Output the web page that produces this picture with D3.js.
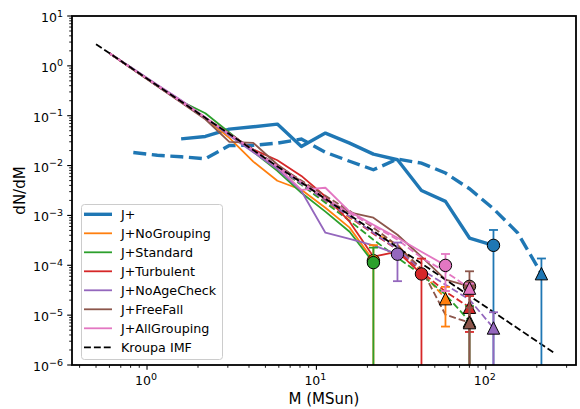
<!DOCTYPE html>
<html><head><meta charset="utf-8">
<script src="https://cdn.jsdelivr.net/npm/d3@7"></script>
<style>body{margin:0;background:#fff}svg{display:block;font-family:"DejaVu Sans",sans-serif}</style>
</head><body><svg id="c" width="580" height="409"></svg>
<script>
// ---------------- data ----------------
const massBins = [0.6, 0.83, 1.15, 1.59, 2.21, 3.06, 4.24, 5.88, 8.15, 11.3, 15.7, 21.7, 30.1, 41.7, 57.8, 80.1, 111, 154, 213];
const seriesNames = ["J+", "J+NoGrouping", "J+Standard", "J+Turbulent", "J+NoAgeCheck", "J+FreeFall", "J+AllGrouping"];
const N = null;
const jplusSolid        = [N, N, N, 0.0344, 0.0383, 0.0539, 0.060, 0.0679, 0.0241, 0.0448, 0.0282, 0.0170, 0.0131, 0.00317, 0.00191, 0.000352, 0.000251, N, N];
const jplusDashed       = [N, 0.0183, 0.0161, 0.0150, 0.0137, 0.0253, 0.0255, 0.0282, 0.0340, 0.0185, 0.0122, 0.00824, 0.0135, 0.0112, 0.00708, 0.00343, 0.00136, 0.00045, 0.0000679];
const noGroupingSolid   = [1.80, 0.86, 0.41, 0.19, 0.088, 0.036, 0.012, 0.00496, 0.00327, 0.00143, 0.00057, 0.000124, N, N, N, N, N, N, N];
const noGroupingDashed  = [1.79, 0.85, 0.40, 0.19, 0.089, 0.042, 0.020, 0.0090, 0.0042, 0.0019, 0.00090, 0.00045, 0.00026, 0.0000744, 0.0000214, N, N, N, N];
const standardSolid     = [1.78, 0.85, 0.40, 0.195, 0.112, 0.046, 0.019, 0.00787, 0.00285, 0.00119, 0.00047, 0.000113, N, N, N, N, N, N, N];
const standardDashed    = [1.79, 0.85, 0.40, 0.19, 0.089, 0.042, 0.020, 0.0092, 0.0041, 0.0018, 0.00078, 0.000326, 0.000142, 0.0000648, 0.0000258, 0.0000076, N, N, N];
const turbulentSolid    = [1.79, 0.84, 0.40, 0.19, 0.090, 0.043, 0.021, 0.0128, 0.0062, 0.0024, 0.00075, 0.000149, 0.000187, 0.000067, N, N, N, N, N];
const turbulentDashed   = [1.79, 0.85, 0.40, 0.19, 0.090, 0.043, 0.0205, 0.0097, 0.0046, 0.0021, 0.00095, 0.00043, 0.000205, 0.0000744, 0.0000296, 0.0000144, N, N, N];
const noAgeCheckSolid   = [1.80, 0.87, 0.42, 0.205, 0.092, 0.040, 0.0185, 0.0085, 0.0031, 0.00045, 0.00034, 0.00025, 0.000167, N, N, N, N, N, N];
const noAgeCheckDashed  = [1.79, 0.85, 0.40, 0.19, 0.089, 0.042, 0.020, 0.0093, 0.0043, 0.0020, 0.00095, 0.00045, 0.00021, 0.0000816, 0.0000409, 0.0000205, 0.00000553, N, N];
const freeFallSolid     = [1.78, 0.84, 0.39, 0.185, 0.085, 0.030, 0.0286, 0.0105, 0.0048, 0.0021, 0.00115, 0.0009, 0.00041, 0.000149, 0.0000515, 0.0000378, N, N, N];
const freeFallDashed    = [1.79, 0.85, 0.40, 0.19, 0.090, 0.044, 0.021, 0.010, 0.0050, 0.00248, 0.00124, 0.000567, 0.000247, 0.000085, 0.0000102, 0.00000708, N, N, N];
const allGroupingSolid  = [1.79, 0.85, 0.41, 0.20, 0.092, 0.043, 0.020, 0.0095, 0.00327, 0.00359, 0.00119, 0.000651, 0.000357, 0.000187, 0.0000995, N, N, N, N];
const allGroupingDashed = [1.79, 0.85, 0.40, 0.19, 0.090, 0.043, 0.0205, 0.0098, 0.0047, 0.0022, 0.0011, 0.000622, 0.000326, 0.000142, 0.0000744, 0.0000348, N, N, N];
// symmetric errors on last point (circle = solid run, triangle = dashed run)
const circleErr   = [2.6e-4, 1.3e-4, 1.13e-4, 6.9e-5, 1.19e-4, 3.8e-5, 6.9e-5];
const triangleErr = [6.9e-5, 1.55e-5, 7.6e-6, 9.8e-6, 5.9e-6, 7.1e-6, 8e-6];
const kroupaMass = [0.5, 250];
const kroupaVal  = [2.72, 1.8e-6];
const xTickVals = [1, 10, 100];
const yTickVals = [1e-6, 1e-5, 1e-4, 1e-3, 1e-2, 1e-1, 1, 10];

const solids  = [jplusSolid, noGroupingSolid, standardSolid, turbulentSolid, noAgeCheckSolid, freeFallSolid, allGroupingSolid];
const dasheds = [jplusDashed, noGroupingDashed, standardDashed, turbulentDashed, noAgeCheckDashed, freeFallDashed, allGroupingDashed];
const colors = ["#1f77b4", "#ff7f0e", "#2ca02c", "#d62728", "#9467bd", "#8c564b", "#e377c2"];

// ---------------- layout ----------------
const L = 72, R = 576, T = 16, B = 365;
const svg = d3.select("#c");
const x = d3.scaleLog().domain([0.3607, 340.8]).range([L, R]);
const y = d3.scaleLog().domain([1e-6, 10]).range([B, T]);

svg.append("defs").append("clipPath").attr("id", "clip")
  .append("rect").attr("x", L).attr("y", T).attr("width", R - L).attr("height", B - T);
const plot = svg.append("g").attr("clip-path", "url(#clip)");

const line = d3.line().defined(d => d[1] != null).x(d => x(d[0])).y(d => y(d[1]));
const pts = arr => massBins.map((m, i) => [m, arr[i]]);

// thick J+ lines
plot.append("path").datum(pts(jplusSolid)).attr("d", line)
  .attr("fill", "none").attr("stroke", colors[0]).attr("stroke-width", 3.4).attr("stroke-linejoin", "round");
plot.append("path").datum(pts(jplusDashed)).attr("d", line)
  .attr("fill", "none").attr("stroke", colors[0]).attr("stroke-width", 3.4).attr("stroke-dasharray", "13,5.6");

// thin lines
for (let s = 1; s < 7; s++) {
  plot.append("path").datum(pts(solids[s])).attr("d", line)
    .attr("fill", "none").attr("stroke", colors[s]).attr("stroke-width", 1.8).attr("stroke-linejoin", "round");
  plot.append("path").datum(pts(dasheds[s])).attr("d", line)
    .attr("fill", "none").attr("stroke", colors[s]).attr("stroke-width", 1.8).attr("stroke-dasharray", "6.9,3");
}

// Kroupa
plot.append("path").datum(kroupaMass.map((m, i) => [m, kroupaVal[i]])).attr("d", line)
  .attr("fill", "none").attr("stroke", "#000").attr("stroke-width", 1.8).attr("stroke-dasharray", "6.9,3");

function lastPt(arr) {
  let i = arr.length - 1;
  while (arr[i] == null) i--;
  return [massBins[i], arr[i]];
}
function errbar(p, e, col) {
  const px = x(p[0]);
  const top = y(p[1] + e);
  const lowV = p[1] - e;
  const bot = lowV > 0 ? y(lowV) : B + 5;
  plot.append("line").attr("x1", px).attr("x2", px).attr("y1", top).attr("y2", bot)
    .attr("stroke", col).attr("stroke-width", 1.8);
  plot.append("line").attr("x1", px - 4.5).attr("x2", px + 4.5).attr("y1", top).attr("y2", top)
    .attr("stroke", col).attr("stroke-width", 1.8);
  if (lowV > 0) plot.append("line").attr("x1", px - 4.5).attr("x2", px + 4.5).attr("y1", bot).attr("y2", bot)
    .attr("stroke", col).attr("stroke-width", 1.8);
}
const tri = "M0,-6.2L6.2,6.2L-6.2,6.2Z";
for (let s = 0; s < 7; s++) {
  const pc = lastPt(solids[s]);
  errbar(pc, circleErr[s], colors[s]);
  plot.append("circle").attr("cx", x(pc[0])).attr("cy", y(pc[1])).attr("r", 6.2)
    .attr("fill", colors[s]).attr("stroke", "#000").attr("stroke-width", 1);
  const pt = lastPt(dasheds[s]);
  errbar(pt, triangleErr[s], colors[s]);
  plot.append("path").attr("d", tri).attr("transform", `translate(${x(pt[0])},${y(pt[1])})`)
    .attr("fill", colors[s]).attr("stroke", "#000").attr("stroke-width", 1);
}

// ---------------- axes ----------------
const ax = svg.append("g");
function powLabel(g, base, exp, xx, yy, anchor) {
  const t = g.append("text").attr("x", xx).attr("y", yy).attr("text-anchor", anchor)
    .attr("font-size", 12.5).attr("fill", "#000");
  t.append("tspan").text(base);
  t.append("tspan").attr("dy", -5.5).attr("font-size", 9.5).text(exp);
}
const fmtExp = v => { const e = Math.round(Math.log10(v)); return (e < 0 ? "\u2212" : "") + Math.abs(e); };

// minor ticks
const xMinor = [], yMinor = [];
for (let d = -1; d <= 2; d++) for (let k = 2; k <= 9; k++) { const v = k * Math.pow(10, d); if (v > x.domain()[0] && v < x.domain()[1]) xMinor.push(v); }
for (let d = -6; d <= 0; d++) for (let k = 2; k <= 9; k++) yMinor.push(k * Math.pow(10, d));
xMinor.forEach(v => ax.append("line").attr("x1", x(v)).attr("x2", x(v)).attr("y1", B).attr("y2", B + 2.8).attr("stroke", "#000").attr("stroke-width", 0.9));
yMinor.forEach(v => ax.append("line").attr("x1", L).attr("x2", L - 2.8).attr("y1", y(v)).attr("y2", y(v)).attr("stroke", "#000").attr("stroke-width", 0.9));
xTickVals.forEach(v => {
  ax.append("line").attr("x1", x(v)).attr("x2", x(v)).attr("y1", B).attr("y2", B + 4.8).attr("stroke", "#000").attr("stroke-width", 1.1);
  powLabel(ax, "10", fmtExp(v), x(v) - 1, 385, "middle");
});
yTickVals.forEach(v => {
  ax.append("line").attr("x1", L).attr("x2", L - 4.8).attr("y1", y(v)).attr("y2", y(v)).attr("stroke", "#000").attr("stroke-width", 1.1);
  powLabel(ax, "10", fmtExp(v), 63, y(v) + 6, "end");
});
ax.append("rect").attr("x", L).attr("y", T).attr("width", R - L).attr("height", B - T)
  .attr("fill", "none").attr("stroke", "#000").attr("stroke-width", 1.8);

ax.append("text").attr("x", (L + R) / 2).attr("y", 404).attr("text-anchor", "middle")
  .attr("font-size", 15).text("M (MSun)");
ax.append("text").attr("transform", `translate(25,${(T + B) / 2}) rotate(-90)`).attr("text-anchor", "middle")
  .attr("font-size", 15).text("dN/dM");

// ---------------- legend ----------------
const lg = svg.append("g");
lg.append("rect").attr("x", 81.5).attr("y", 204.5).attr("width", 141).attr("height", 155).attr("rx", 3)
  .attr("fill", "#fff").attr("fill-opacity", 0.8).attr("stroke", "#cccccc").attr("stroke-width", 1);
const legItems = seriesNames.concat(["Kroupa IMF"]);
legItems.forEach((name, i) => {
  const yy = 214.3 + i * 19;
  const l = lg.append("line").attr("x1", 84).attr("x2", 112).attr("y1", yy).attr("y2", yy);
  if (i === 0) l.attr("stroke", colors[0]).attr("stroke-width", 3.4);
  else if (i < 7) l.attr("stroke", colors[i]).attr("stroke-width", 1.8);
  else l.attr("stroke", "#000").attr("stroke-width", 1.8).attr("stroke-dasharray", "6.9,3");
  lg.append("text").attr("x", 121).attr("y", yy + 4.5).attr("font-size", 12.7).text(name);
});
</script></body></html>
